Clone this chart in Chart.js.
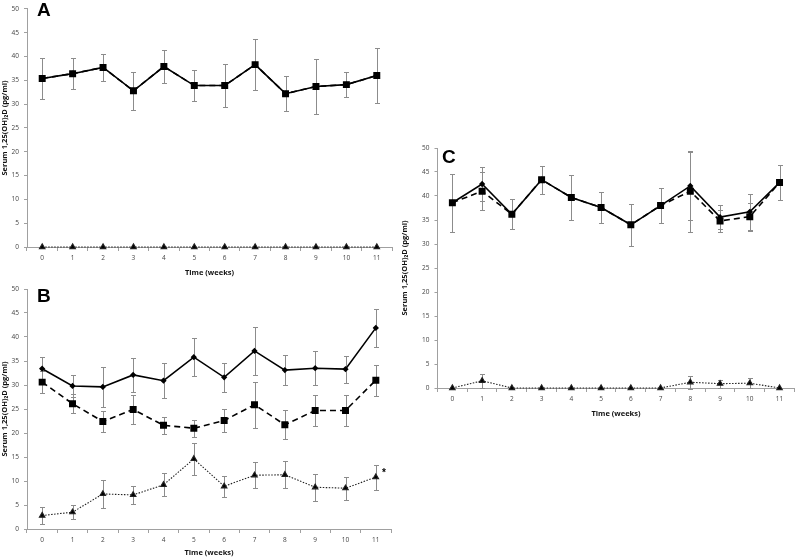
<!DOCTYPE html>
<html>
<head>
<meta charset="utf-8">
<script src="https://cdn.jsdelivr.net/npm/chart.js@4.4.1/dist/chart.umd.min.js"></script>
<style>
  body { margin: 0; background: #fff; width: 800px; height: 558px; position: relative; overflow: hidden; }
  canvas { position: absolute; }
</style>
</head>
<body>
<canvas id="chartA" width="400" height="280" style="left:0;top:0"></canvas>
<canvas id="chartB" width="400" height="278" style="left:0;top:280px"></canvas>
<canvas id="chartC" width="400" height="290" style="left:400px;top:130px"></canvas>
<script>
// weeks on the x axis
const weeks = ['0', '1', '2', '3', '4', '5', '6', '7', '8', '9', '10', '11'];
const yMin = 0, yMax = 50, yStep = 5;

// panel A : solid and dashed groups overlap, dotted group is zero
const aMean = [35.4, 36.4, 37.7, 32.8, 37.9, 33.9, 33.9, 38.3, 32.2, 33.7, 34.1, 36.0];
const aErr  = [4.3, 3.3, 2.8, 4.0, 3.4, 3.3, 4.6, 5.4, 3.7, 5.7, 2.6, 5.7];
const aDot  = [0, 0, 0, 0, 0, 0, 0, 0, 0, 0, 0, 0];

// panel B
const bSolid    = [33.4, 29.8, 29.6, 32.1, 30.9, 35.8, 31.6, 37.1, 33.1, 33.5, 33.3, 41.9];
const bSolidErr = [2.5, 2.3, 4.2, 3.6, 3.6, 4.0, 3.0, 5.0, 3.1, 3.5, 2.8, 3.9];
const bDash     = [30.6, 26.1, 22.4, 24.9, 21.6, 21.0, 22.6, 25.9, 21.7, 24.7, 24.7, 31.0];
const bDashErr  = [2.3, 2.0, 2.2, 3.1, 1.8, 1.8, 2.4, 4.8, 3.0, 3.2, 3.2, 3.2];
const bDot      = [2.8, 3.5, 7.3, 7.1, 9.2, 14.6, 8.9, 11.2, 11.3, 8.7, 8.5, 10.8];
const bDotErr   = [1.8, 1.5, 3.0, 1.8, 2.4, 3.3, 2.2, 2.7, 2.8, 2.8, 2.4, 2.6];

// panel C
const cSolid    = [38.6, 42.5, 36.2, 43.4, 39.7, 37.6, 34.0, 38.0, 42.1, 35.6, 36.7, 42.8];
const cSolidErr = [6.0, 3.5, 3.1, 2.9, 4.6, 3.2, 4.4, 3.7, 7.0, 2.5, 3.7, 3.7];
const cDash     = [38.6, 41.0, 36.2, 43.4, 39.7, 37.6, 34.0, 38.0, 41.0, 34.8, 35.7, 42.8];
const cDashErr  = [6.0, 4.0, 3.1, 2.9, 4.6, 3.2, 4.4, 3.7, 8.4, 2.3, 2.9, 3.7];
const cDot      = [0, 1.5, 0, 0, 0, 0, 0, 0, 1.2, 0.9, 1.0, 0];
const cDotErr   = [0, 1.4, 0, 0, 0, 0, 0, 0, 1.4, 0.8, 1.1, 0];

const FONT = "'Open Sans', 'DejaVu Sans', sans-serif";

// vertical error bars drawn under the lines
const errorBars = {
  id: 'errorBars',
  beforeDatasetsDraw(chart) {
    const ctx = chart.ctx;
    const ys = chart.scales.y;
    ctx.save();
    ctx.strokeStyle = '#8c8c8c';
    ctx.lineWidth = 1;
    chart.data.datasets.forEach((ds, i) => {
      if (!ds.errors) return;
      const meta = chart.getDatasetMeta(i);
      meta.data.forEach((pt, j) => {
        const e = ds.errors[j];
        if (!e) return;
        const v = ds.data[j];
        const x = Math.round(pt.x) + 0.5;
        const top = Math.round(ys.getPixelForValue(v + e)) + 0.5;
        const bot = Math.round(ys.getPixelForValue(v - e)) + 0.5;
        ctx.beginPath();
        ctx.moveTo(x, top); ctx.lineTo(x, bot);
        ctx.moveTo(x - 2.5, top); ctx.lineTo(x + 2.5, top);
        ctx.moveTo(x - 2.5, bot); ctx.lineTo(x + 2.5, bot);
        ctx.stroke();
      });
    });
    ctx.restore();
  }
};

// panel letter and the optional asterisk
const panelText = {
  id: 'panelText',
  afterDraw(chart, args, opts) {
    const ctx = chart.ctx;
    ctx.save();
    ctx.fillStyle = '#000';
    ctx.textBaseline = 'alphabetic';
    ctx.font = "bold 19px 'Liberation Sans', Arial, sans-serif";
    ctx.fillText(opts.letter, opts.lx, opts.ly);
    if (opts.star) {
      const pt = chart.getDatasetMeta(opts.star.dataset).data[opts.star.index];
      ctx.font = "bold 10px 'Liberation Sans', Arial, sans-serif";
      ctx.textAlign = 'center';
      ctx.textBaseline = 'middle';
      ctx.fillText('*', pt.x + 8, pt.y - 4);
    }
    ctx.restore();
  }
};

function solidSet(data, err) {
  return { data: data, errors: err, borderColor: '#000', backgroundColor: '#000',
    borderWidth: 1.6, pointStyle: 'rectRot', pointRadius: 2, tension: 0, clip: false };
}
function dashSet(data, err) {
  return { data: data, errors: err, borderColor: '#000', backgroundColor: '#000',
    borderWidth: 1.6, borderDash: [6, 4], pointStyle: 'rect', pointRadius: 3.8, tension: 0, clip: false };
}
function dotSet(data, err) {
  return { data: data, errors: err, borderColor: '#222', backgroundColor: '#000',
    borderWidth: 1.1, borderDash: [1.5, 1.5], pointStyle: 'triangle', pointRadius: 3.2, tension: 0, clip: false };
}

function makeChart(id, datasets, cfg) {
  const ctx = document.getElementById(id).getContext('2d');
  return new Chart(ctx, {
    type: 'line',
    data: { labels: weeks, datasets: datasets },
    options: {
      responsive: false,
      animation: false,
      layout: { padding: { left: 0, right: cfg.right, top: cfg.top, bottom: 0 } },
      plugins: {
        legend: { display: false },
        tooltip: { enabled: false },
        panelText: { letter: cfg.letter, lx: cfg.lx, ly: cfg.ly, star: cfg.star }
      },
      scales: {
        x: {
          offset: true,
          grid: { offset: true, drawOnChartArea: false, tickLength: 4, color: '#a0a0a0' },
          border: { color: '#a0a0a0' },
          ticks: { font: { family: FONT, size: 6.5 }, color: '#444', padding: 3, maxRotation: 0, autoSkip: false },
          title: { display: true, text: 'Time (weeks)', color: '#111',
            font: { family: FONT, size: 7.5, weight: 'bold' }, padding: { top: 0, bottom: cfg.xTitlePad } },
          afterFit(s) { s.height = cfg.xh; }
        },
        y: {
          min: yMin, max: yMax,
          grid: { drawOnChartArea: false, tickLength: 3, color: '#a0a0a0' },
          border: { color: '#a0a0a0' },
          ticks: { stepSize: yStep, font: { family: FONT, size: 6.5 }, color: '#444', padding: 5 },
          title: { display: true, text: 'Serum 1,25(OH)\u2082D (pg/ml)', color: '#111',
            font: { family: FONT, size: 7.5, weight: 'bold' }, padding: { top: 0, bottom: 0 } },
          afterFit(s) { s.width = cfg.yw; }
        }
      }
    },
    plugins: [errorBars, panelText]
  });
}

makeChart('chartA', [
  dashSet(aMean, aErr),
  solidSet(aMean, null),
  dotSet(aDot, null)
], { right: 8, top: 0, xh: 33, yw: 27, xTitlePad: 2.5, letter: 'A', lx: 37, ly: 16 });

makeChart('chartB', [
  dashSet(bDash, bDashErr),
  solidSet(bSolid, bSolidErr),
  dotSet(bDot, bDotErr)
], { right: 9, top: 9, xh: 29, yw: 27, xTitlePad: 0.5, letter: 'B', lx: 37, ly: 22,
     star: { dataset: 2, index: 11 } });

makeChart('chartC', [
  dashSet(cDash, cDashErr),
  solidSet(cSolid, cSolidErr),
  dotSet(cDot, cDotErr)
], { right: 1, top: 18, xh: 32, yw: 37.5, xTitlePad: 1.5, letter: 'C', lx: 42, ly: 33 });
</script>
</body>
</html>
